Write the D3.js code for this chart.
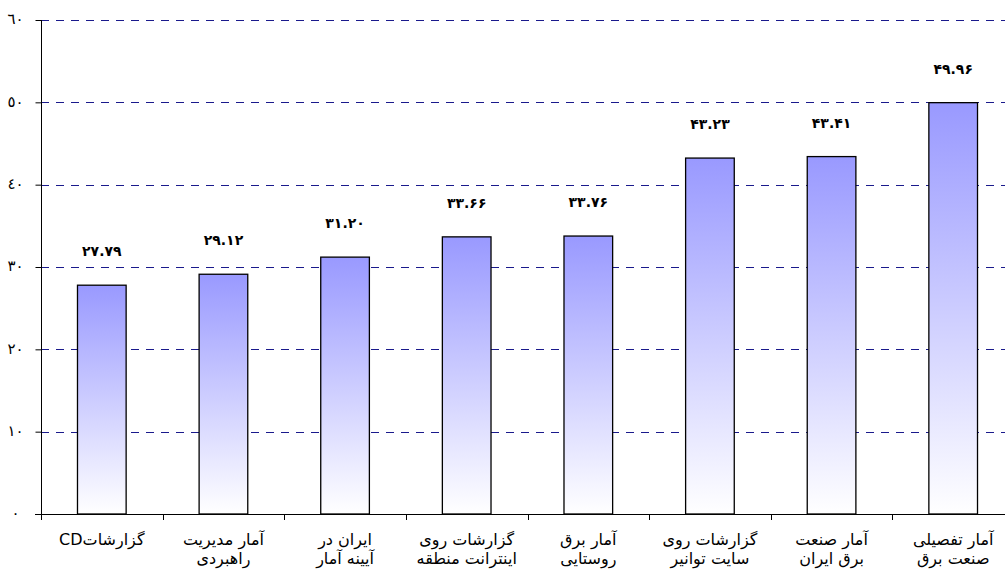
<!DOCTYPE html>
<html>
<head>
<meta charset="utf-8">
<script src="https://cdn.jsdelivr.net/npm/d3@7"></script>
<style>
  body { margin: 0; background: #fff; }
  svg { display: block; font-family: "DejaVu Sans", "Noto Sans", sans-serif; }
</style>
</head>
<body>
<script>
// chart data
const categories = [
    ["گزارشاتCD"],
    ["آمار مدیریت", "راهبردی"],
    ["ایران در", "آیینه آمار"],
    ["گزارشات روی", "اینترانت منطقه"],
    ["آمار برق", "روستایی"],
    ["گزارشات روی", "سایت توانیر"],
    ["آمار صنعت", "برق ایران"],
    ["آمار تفصیلی", "صنعت برق"]
];
const values = [27.79, 29.12, 31.20, 33.66, 33.76, 43.23, 43.41, 49.96];
const valueLabels = ["۲۷.۷۹", "۲۹.۱۲", "۳۱.۲۰", "۳۳.۶۶", "۳۳.۷۶", "۴۳.۲۳", "۴۳.۴۱", "۴۹.۹۶"];
const yTicks = [0, 10, 20, 30, 40, 50, 60];
const yTickLabels = ["٠", "١٠", "٢٠", "٣٠", "٤٠", "٥٠", "٦٠"];

const width = 1005;
const height = 571;
const margin = { top: 20, left: 41, bottom: 57 };
const plotRight = 1014;

const svg = d3.select("body")
    .append("svg")
    .attr("width", width)
    .attr("height", height);

const x = d3.scaleBand()
    .domain(d3.range(categories.length))
    .range([margin.left, plotRight])
    .paddingInner(0.6)
    .paddingOuter(0.3);

const y = d3.scaleLinear()
    .domain([0, 60])
    .range([height - margin.bottom, margin.top]);

// gradient for the bars
const grad = svg.append("defs").append("linearGradient")
    .attr("id", "barGrad")
    .attr("x1", 0).attr("y1", 0).attr("x2", 0).attr("y2", 1);
grad.append("stop").attr("offset", "0%").attr("stop-color", "#9999ff");
grad.append("stop").attr("offset", "100%").attr("stop-color", "#ffffff");

// dashed grid lines
svg.append("g")
    .selectAll("line")
    .data(yTicks.filter(d => d > 0))
    .join("line")
    .attr("x1", margin.left)
    .attr("x2", width)
    .attr("y1", d => Math.round(y(d)) + 0.5)
    .attr("y2", d => Math.round(y(d)) + 0.5)
    .attr("stroke", "#1a1a8c")
    .attr("stroke-width", 1)
    .attr("stroke-dasharray", "8,7");

// bars
svg.append("g")
    .selectAll("rect")
    .data(values)
    .join("rect")
    .attr("x", (d, i) => x(i))
    .attr("y", d => y(d))
    .attr("width", x.bandwidth())
    .attr("height", d => y(0) - y(d))
    .attr("fill", "url(#barGrad)")
    .attr("stroke", "#000")
    .attr("stroke-width", 1.3);

// value labels
svg.append("g")
    .selectAll("text")
    .data(values)
    .join("text")
    .attr("x", (d, i) => x(i) + x.bandwidth() / 2)
    .attr("y", d => y(d) - 29)
    .attr("text-anchor", "middle")
    .style("font-size", "14px")
    .style("font-weight", "bold")
    .text((d, i) => valueLabels[i]);

// y axis
const yAxis = svg.append("g")
    .attr("transform", `translate(${margin.left + 0.5},0)`)
    .call(d3.axisLeft(y).tickValues(yTicks).tickSize(6).tickFormat((d, i) => yTickLabels[i]));
yAxis.select(".domain").attr("d", `M0,${margin.top}V${y(0) + 6}`).attr("stroke", "#000");
yAxis.selectAll(".tick line").attr("stroke", "#000");
yAxis.selectAll(".tick text")
    .attr("x", -26)
    .attr("dy", "0.25em")
    .attr("text-anchor", "middle")
    .style("font-size", "15px")
    .style("font-family", "DejaVu Sans, sans-serif");

// x axis line and boundary ticks
const step = x.step();
const bounds = d3.range(categories.length + 1).map(i => x(0) - x.paddingOuter() * step + i * step);
const xg = svg.append("g");
xg.append("line")
    .attr("x1", margin.left - 6)
    .attr("x2", width)
    .attr("y1", Math.round(y(0)) + 0.5)
    .attr("y2", Math.round(y(0)) + 0.5)
    .attr("stroke", "#000");
xg.selectAll(".xt")
    .data(bounds.slice(1))
    .join("line")
    .attr("class", "xt")
    .attr("x1", d => Math.round(d) + 0.5)
    .attr("x2", d => Math.round(d) + 0.5)
    .attr("y1", Math.round(y(0)))
    .attr("y2", Math.round(y(0)) + 6)
    .attr("stroke", "#000");

// category labels
const labels = svg.append("g")
    .selectAll("text")
    .data(categories)
    .join("text")
    .attr("x", (d, i) => x(i) + x.bandwidth() / 2)
    .attr("y", 545)
    .attr("text-anchor", "middle")
    .attr("direction", "rtl")
    .style("font-size", "16px");
labels.selectAll("tspan")
    .data(d => d)
    .join("tspan")
    .attr("x", function () { return this.parentNode.getAttribute("x"); })
    .attr("dy", (d, i) => i === 0 ? 0 : 19)
    .text(d => d);
</script>
</body>
</html>
